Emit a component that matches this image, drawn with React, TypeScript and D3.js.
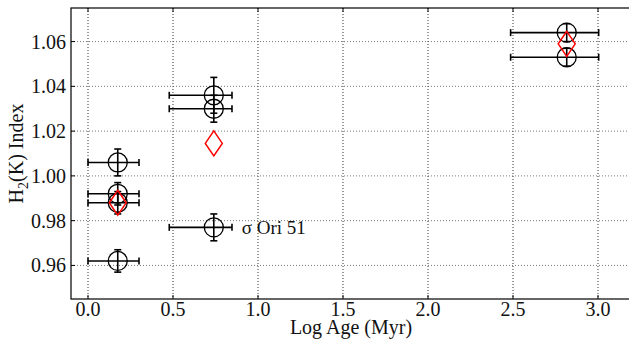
import React from 'react'
import * as d3 from 'd3'

// observed objects
const ages = [0.175, 0.175, 0.175, 0.175, 0.74, 0.74, 0.74, 2.816, 2.816]
const ageLo = [0, 0, 0, 0, 0.478, 0.478, 0.478, 2.486, 2.486]
const ageHi = [0.3, 0.3, 0.3, 0.3, 0.847, 0.847, 0.847, 3.004, 3.004]
const h2Index = [1.006, 0.992, 0.988, 0.962, 1.036, 1.03, 0.977, 1.064, 1.053]
const h2Err = [0.006, 0.005, 0.005, 0.005, 0.008, 0.006, 0.006, 0.004, 0.004]

// model predictions (red diamonds)
const modelAges = [0.175, 0.74, 2.816]
const modelH2 = [0.988, 1.0145, 1.059]

const xTicks = [0, 0.5, 1.0, 1.5, 2.0, 2.5, 3.0]
const yTicks = [0.96, 0.98, 1.0, 1.02, 1.04, 1.06]

const labelName = 'σ Ori 51'
const labelIndex = 6

const W = 629
const H = 339
const FONT = "'Liberation Serif', 'Times New Roman', Times, 'DejaVu Serif', serif"

export default function App() {
  const left = 71
  const top = 8
  const right = 632
  const bottom = 299

  const x = d3.scaleLinear().domain([-0.1, 3.2]).range([left, right])
  const y = d3.scaleLinear().domain([0.945, 1.075]).range([bottom, top])

  const r = 9.5
  const cap = 3.5
  const diamond = (cx: number, cy: number) =>
    `M ${cx} ${cy - 12.5} L ${cx + 8.5} ${cy} L ${cx} ${cy + 12.5} L ${cx - 8.5} ${cy} Z`

  return (
    <svg
      width={W}
      height={H}
      style={{ position: 'absolute', left: 0, top: 0, background: '#fff', fontFamily: FONT }}
    >
      {/* grid */}
      {xTicks.map(t => (
        <line key={'gx' + t} x1={x(t)} x2={x(t)} y1={top} y2={bottom}
          stroke="#000" strokeWidth={0.8} strokeDasharray="1,2" />
      ))}
      {yTicks.map(t => (
        <line key={'gy' + t} x1={left} x2={right} y1={y(t)} y2={y(t)}
          stroke="#555" strokeWidth={0.8} strokeDasharray="1,2" />
      ))}

      {/* inward ticks */}
      {xTicks.map(t => (
        <g key={'tx' + t}>
          <line x1={x(t)} x2={x(t)} y1={bottom} y2={bottom - 4} stroke="#000" />
          <line x1={x(t)} x2={x(t)} y1={top} y2={top + 4} stroke="#000" />
          <text x={x(t)} y={316} textAnchor="middle" fontSize={20} fill="#111">
            {t.toFixed(1)}
          </text>
        </g>
      ))}
      {yTicks.map(t => (
        <g key={'ty' + t}>
          <line x1={left} x2={left + 4} y1={y(t)} y2={y(t)} stroke="#000" />
          <text x={66} y={y(t)} dy="0.35em" textAnchor="end" fontSize={20} fill="#111">
            {t.toFixed(2)}
          </text>
        </g>
      ))}

      {/* axes frame */}
      <rect x={left} y={top} width={right - left} height={bottom - top}
        fill="none" stroke="#000" strokeWidth={1.2} />

      {/* error bars and circles */}
      {ages.map((a, i) => {
        const cx = x(a)
        const cy = y(h2Index[i])
        const x0 = x(ageLo[i])
        const x1 = x(ageHi[i])
        const y0 = y(h2Index[i] - h2Err[i])
        const y1 = y(h2Index[i] + h2Err[i])
        return (
          <g key={'pt' + i} stroke="#000" fill="none">
            <line x1={x0} x2={x1} y1={cy} y2={cy} strokeWidth={1.6} />
            <line x1={x0} x2={x0} y1={cy - cap} y2={cy + cap} strokeWidth={1.6} />
            <line x1={x1} x2={x1} y1={cy - cap} y2={cy + cap} strokeWidth={1.6} />
            <line x1={cx} x2={cx} y1={y0} y2={y1} strokeWidth={1.6} />
            <line x1={cx - cap} x2={cx + cap} y1={y0} y2={y0} strokeWidth={1.6} />
            <line x1={cx - cap} x2={cx + cap} y1={y1} y2={y1} strokeWidth={1.6} />
            <circle cx={cx} cy={cy} r={r} strokeWidth={1.3} />
          </g>
        )
      })}

      {/* model diamonds */}
      {modelAges.map((a, i) => (
        <path key={'m' + i} d={diamond(x(a), y(modelH2[i]))}
          fill="none" stroke="#f00" strokeWidth={1.5} />
      ))}

      {/* annotation */}
      <text x={x(ages[labelIndex]) + 28} y={y(h2Index[labelIndex])} dy="0.35em"
        fontSize={19} fill="#111">
        {labelName}
      </text>

      {/* axis labels */}
      <text x={351} y={334} textAnchor="middle" fontSize={20} fill="#111">
        Log Age (Myr)
      </text>
      <text transform={`translate(23, ${(top + bottom) / 2}) rotate(-90)`}
        textAnchor="middle" fontSize={20} fill="#111">
        H<tspan fontSize={14} dy={5}>2</tspan><tspan dy={-5}>(K) Index</tspan>
      </text>
    </svg>
  )
}
